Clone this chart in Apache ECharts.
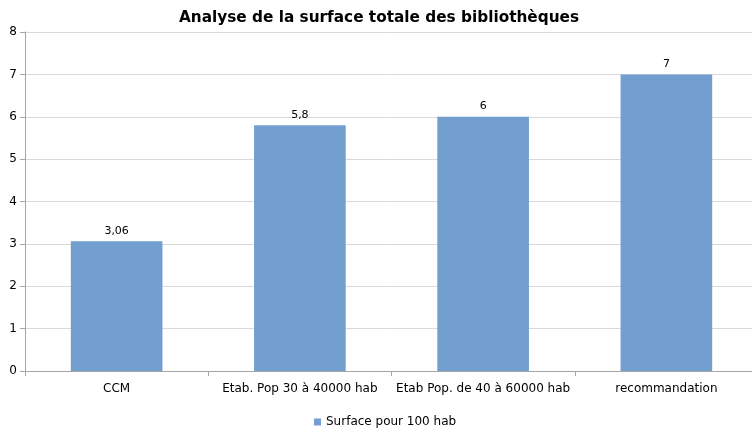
<!DOCTYPE html>
<html><head><meta charset="utf-8">
<script src="https://cdn.jsdelivr.net/npm/echarts@6/dist/echarts.min.js"></script>
<style>html,body{margin:0;padding:0;background:#fff;overflow:hidden}#c{width:758px;height:432px}</style>
</head><body><div id="c"></div>
<script>
const categories = ['CCM', 'Etab. Pop 30 à 40000 hab', 'Etab Pop. de 40 à 60000 hab', 'recommandation'];
const values = [3.06, 5.8, 6, 7];
const seriesName = 'Surface pour 100 hab';
const title = 'Analyse de la surface totale des bibliothèques';
const font = 'DejaVu Sans, Verdana, sans-serif';
const chart = echarts.init(document.getElementById('c'));
chart.setOption({
  animation: false,
  title: {text: title, left: 'center', top: 6, textStyle: {fontFamily: font, fontSize: 15.3, fontWeight: 'bold', color: '#000'}},
  grid: {left: 25, top: 32, right: 0, height: 339, containLabel: false},
  legend: {top: 411, left: 309, itemWidth: 7, itemHeight: 7, icon: 'rect', itemGap: 4,
    textStyle: {fontFamily: font, fontSize: 12, color: '#000'}, data: [seriesName]},
  xAxis: {type: 'category', data: categories,
    axisLine: {lineStyle: {color: '#a6a6a6'}},
    axisTick: {show: true, length: 5, lineStyle: {color: '#a6a6a6'}},
    axisLabel: {fontFamily: font, fontSize: 12, color: '#000', margin: 12, interval: 0}},
  yAxis: {type: 'value', min: 0, max: 8, interval: 1,
    axisLine: {show: true, lineStyle: {color: '#a6a6a6'}},
    axisTick: {show: true, length: 5, lineStyle: {color: '#a6a6a6'}},
    splitLine: {lineStyle: {color: '#d9d9d9'}},
    axisLabel: {fontFamily: font, fontSize: 12, color: '#000', margin: 8}},
  series: [{name: seriesName, type: 'bar', data: values, barWidth: '50%',
    itemStyle: {color: '#729fcf'},
    label: {show: true, position: 'top', fontFamily: font, fontSize: 11, color: '#000',
      formatter: p => String(p.value).replace('.', ',')}}]
});
</script></body></html>
